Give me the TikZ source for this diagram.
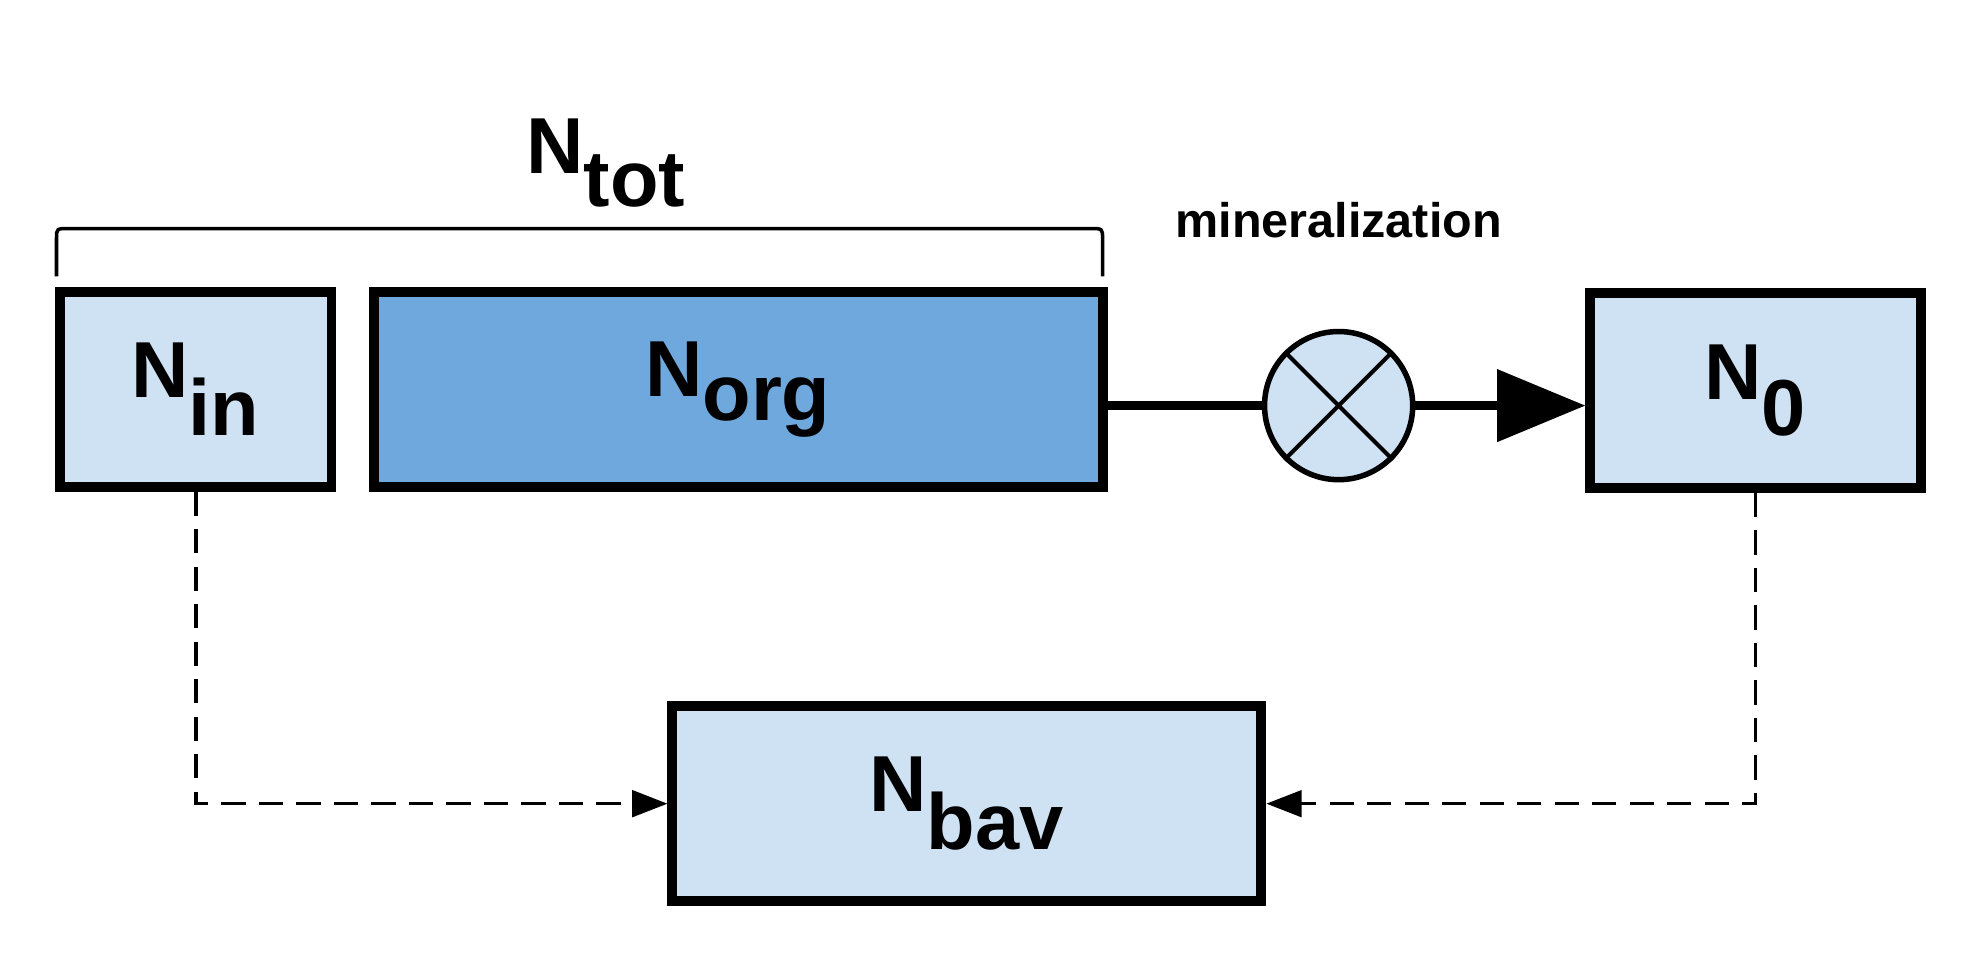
\documentclass[tikz,border=0pt]{standalone}
\usepackage{fontspec}
\setmainfont{Liberation Sans}
\usetikzlibrary{arrows.meta,decorations.pathreplacing}
\definecolor{light}{HTML}{CFE2F3}
\definecolor{dark}{HTML}{6FA8DC}
\begin{document}
\begin{tikzpicture}[x=0.02cm,y=-0.02cm,
  box/.style={draw=black,line width=4.5pt,fill=light,inner sep=0pt,font=\fontsize{36}{40}\selectfont\bfseries},
  dconn/.style={line width=1.6pt,dash pattern=on 11pt off 6pt,-{Triangle[length=16pt,width=12pt]}}]
\useasboundingbox (0,0) rectangle (1568,773);
\node[box,minimum width=216*0.02cm,minimum height=155*0.02cm] (nin) at (156,310) {N$_{\textbf{in}}$};
\node[box,fill=dark,minimum width=580*0.02cm,minimum height=155*0.02cm] (norg) at (588,310) {N$_{\textbf{org}}$};
\node[box,minimum width=263*0.02cm,minimum height=155*0.02cm] (n0) at (1398,311) {N$_{\textbf{0}}$};
\node[box,minimum width=469*0.02cm,minimum height=155*0.02cm] (nbav) at (770,640) {N$_{\textbf{bav}}$};
\node[circle,draw=black,line width=2.5pt,fill=light,minimum size=118*0.02cm,inner sep=0pt] (mx) at (1066,323) {};
\draw[line width=1.8pt] (mx.45) -- (mx.225) (mx.135) -- (mx.315);
\draw[line width=4pt] (norg.east |- mx) -- (mx.west);
\draw[line width=4pt,-{Triangle[length=40pt,width=32pt]}] (mx.east) -- (n0.west |- mx);
\node[font=\fontsize{36}{40}\selectfont\bfseries] (ntot) at (483,130) {N$_{\textbf{tot}}$};
\node[font=\fontsize{22}{26}\selectfont\bfseries] (min) at (1066,175) {mineralization};
\draw[line width=1.6pt] (45,220) -- (45,190) .. controls (45,182) .. (55,182) -- (868,182) .. controls (878,182) .. (878,190) -- (878,220);
\coordinate (c1) at (156,640);
\coordinate (c2) at (1398,640);
\draw[dconn] (nin.south -| c1) -- (c1) -- (nbav.west);
\draw[dconn] (n0.south -| c2) -- (c2) -- (nbav.east);
\end{tikzpicture}
\end{document}
